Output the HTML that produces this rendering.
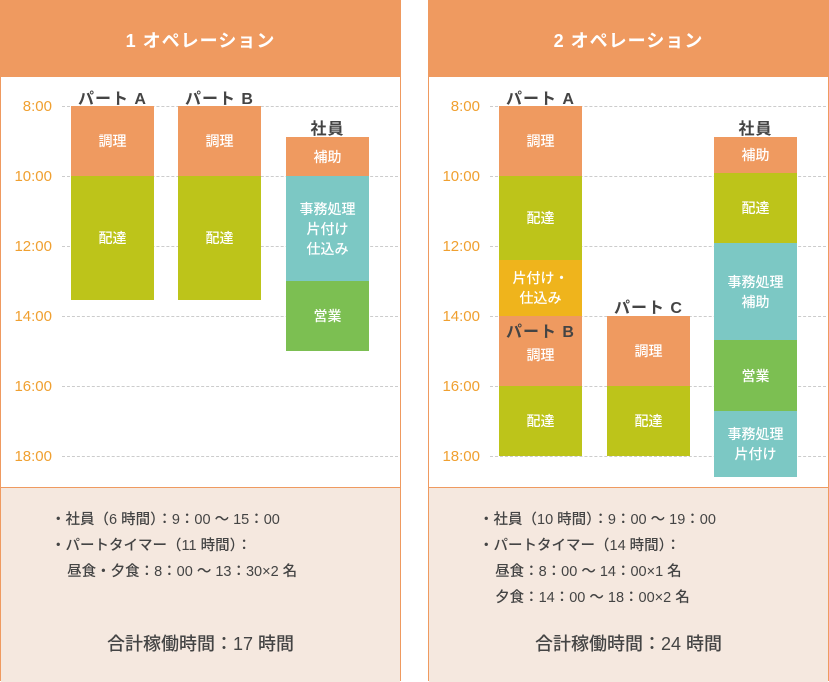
<!DOCTYPE html>
<html><head><meta charset="utf-8"><style>
*{margin:0;padding:0;box-sizing:border-box}
body{width:829px;height:681px;background:#fff;font-family:"Liberation Sans","Noto Sans CJK JP",sans-serif;position:relative;overflow:hidden}
.p{position:absolute;top:0;width:401px;height:681px;border:1px solid #ef9a60}
.h{position:absolute;left:0;top:0;width:100%;height:76px;background:#ef9a60;color:#fff;font-size:18px;font-weight:bold;text-align:center;line-height:80px;letter-spacing:1px}
.f{position:absolute;left:0;top:486px;width:100%;height:195px;background:#f5e8df;border-top:1px solid #ef9a60;color:#444;font-size:14.5px;font-weight:500}
.b{position:absolute;color:#fff;font-size:14px;font-weight:500;display:flex;align-items:center;justify-content:center;text-align:center;line-height:20px}
.l{position:absolute;width:45px;text-align:right;color:#f0a030;font-size:15px;font-weight:500}
.g{position:absolute;height:0;border-top:1px dashed #ccc}
.t{position:absolute;color:#444;font-size:16px;font-weight:bold;width:83px;text-align:center;letter-spacing:1px}
.O{background:#ef9a60}.G{background:#bdc41a}.T{background:#7cc8c4}.N{background:#7cbf52}.Y{background:#efb41c}
</style></head><body>
<div class="p" style="left:0"><div class="h">1 オペレーション</div>
<div class="f"><div style="position:absolute;left:50px;top:19px;line-height:26px">・社員（6 時間）：9：00 〜 15：00<br>・パートタイマー（11 時間）：<br>&nbsp;&nbsp;&nbsp;&nbsp;昼食・夕食：8：00 〜 13：30×2 名</div>
<div style="position:absolute;left:0;width:100%;top:142px;text-align:center;font-size:18px">合計稼働時間：17 時間</div></div></div>
<div class="p" style="left:428px;width:401px"><div class="h">2 オペレーション</div>
<div class="f"><div style="position:absolute;left:50px;top:19px;line-height:26px">・社員（10 時間）：9：00 〜 19：00<br>・パートタイマー（14 時間）：<br>&nbsp;&nbsp;&nbsp;&nbsp;昼食：8：00 〜 14：00×1 名<br>&nbsp;&nbsp;&nbsp;&nbsp;夕食：14：00 〜 18：00×2 名</div>
<div style="position:absolute;left:0;width:100%;top:142px;text-align:center;font-size:18px">合計稼働時間：24 時間</div></div></div>

<div class="g" style="left:62px;width:336px;top:106px"></div><div class="g" style="left:62px;width:336px;top:176px"></div><div class="g" style="left:62px;width:336px;top:246px"></div><div class="g" style="left:62px;width:336px;top:316px"></div><div class="g" style="left:62px;width:336px;top:386px"></div><div class="g" style="left:62px;width:336px;top:456px"></div>
<div class="g" style="left:490px;width:336px;top:106px"></div><div class="g" style="left:490px;width:336px;top:176px"></div><div class="g" style="left:490px;width:336px;top:246px"></div><div class="g" style="left:490px;width:336px;top:316px"></div><div class="g" style="left:490px;width:336px;top:386px"></div><div class="g" style="left:490px;width:336px;top:456px"></div>

<div class="l" style="left:7px;top:98px">8:00</div><div class="l" style="left:7px;top:168px">10:00</div><div class="l" style="left:7px;top:238px">12:00</div><div class="l" style="left:7px;top:308px">14:00</div><div class="l" style="left:7px;top:378px">16:00</div><div class="l" style="left:7px;top:448px">18:00</div>
<div class="l" style="left:435px;top:98px">8:00</div><div class="l" style="left:435px;top:168px">10:00</div><div class="l" style="left:435px;top:238px">12:00</div><div class="l" style="left:435px;top:308px">14:00</div><div class="l" style="left:435px;top:378px">16:00</div><div class="l" style="left:435px;top:448px">18:00</div>

<div class="t" style="left:71px;top:85px">パート A</div>
<div class="b O" style="left:71px;top:106px;width:83px;height:70px">調理</div>
<div class="b G" style="left:71px;top:176px;width:83px;height:124px">配達</div>
<div class="t" style="left:178px;top:85px">パート B</div>
<div class="b O" style="left:178px;top:106px;width:83px;height:70px">調理</div>
<div class="b G" style="left:178px;top:176px;width:83px;height:124px">配達</div>
<div class="t" style="left:286px;top:115px">社員</div>
<div class="b O" style="left:286px;top:137px;width:83px;height:39px">補助</div>
<div class="b T" style="left:286px;top:176px;width:83px;height:105px">事務処理<br>片付け<br>仕込み</div>
<div class="b N" style="left:286px;top:281px;width:83px;height:70px">営業</div>

<div class="t" style="left:499px;top:85px">パート A</div>
<div class="b O" style="left:499px;top:106px;width:83px;height:70px">調理</div>
<div class="b G" style="left:499px;top:176px;width:83px;height:84px">配達</div>
<div class="b Y" style="left:499px;top:260px;width:83px;height:56px">片付け・<br>仕込み</div>
<div class="b O" style="left:499px;top:316px;width:83px;height:70px;padding-top:8px">調理</div>
<div class="t" style="left:499px;top:318px">パート B</div>
<div class="b G" style="left:499px;top:386px;width:83px;height:70px">配達</div>
<div class="t" style="left:607px;top:294px">パート C</div>
<div class="b O" style="left:607px;top:316px;width:83px;height:70px">調理</div>
<div class="b G" style="left:607px;top:386px;width:83px;height:70px">配達</div>
<div class="t" style="left:714px;top:115px">社員</div>
<div class="b O" style="left:714px;top:137px;width:83px;height:36px">補助</div>
<div class="b G" style="left:714px;top:173px;width:83px;height:70px">配達</div>
<div class="b T" style="left:714px;top:243px;width:83px;height:97px">事務処理<br>補助</div>
<div class="b N" style="left:714px;top:340px;width:83px;height:71px">営業</div>
<div class="b T" style="left:714px;top:411px;width:83px;height:66px">事務処理<br>片付け</div>
</body></html>
